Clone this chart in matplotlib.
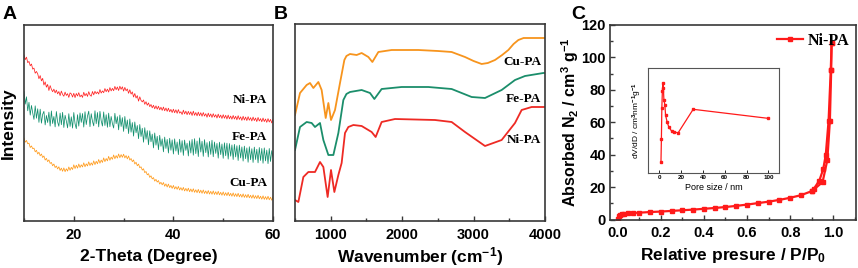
import numpy as np
import matplotlib
matplotlib.use("Agg")
import matplotlib.pyplot as plt
from matplotlib.ticker import MultipleLocator

plt.rcParams['font.family'] = ['Liberation Sans', 'DejaVu Sans']
plt.rcParams['font.weight'] = 'bold'
plt.rcParams['axes.labelweight'] = 'bold'
plt.rcParams['mathtext.fontset'] = 'custom'
plt.rcParams['mathtext.bf'] = 'Liberation Sans:bold'
plt.rcParams['mathtext.rm'] = 'Liberation Sans:bold'
plt.rcParams['mathtext.default'] = 'bf'

# --- A : XRD (2-theta grid, 0.25 deg step) ---
two_theta = np.linspace(10, 60, 201)
xrd_ni = [84.5, 82.1, 83.4, 80.6, 81.2, 79.0, 79.9, 77.3, 77.8, 75.2, 76.1, 74.9,
          72.4, 74.0, 71.3, 72.6, 69.2, 70.8, 68.1, 69.5, 66.4, 68.9, 67.0, 65.8,
          67.1, 65.2, 66.6, 64.7, 65.9, 63.8, 66.1, 64.4, 63.5, 65.6, 63.9, 64.8,
          62.9, 65.2, 64.7, 63.1, 65.0, 62.8, 64.9, 63.6, 65.3, 63.2, 64.1, 62.9,
          65.5, 63.7, 64.9, 63.4, 65.8, 64.1, 63.5, 65.9, 64.2, 66.0, 64.8, 65.7,
          64.6, 66.9, 65.1, 66.2, 65.3, 67.4, 65.8, 67.1, 65.6, 67.9, 66.2, 67.5,
          66.3, 68.5, 66.8, 68.2, 66.4, 68.6, 67.0, 68.3, 66.1, 68.0, 66.3, 67.2,
          65.0, 66.8, 64.6, 65.7, 63.1, 64.9, 62.6, 63.8, 61.0, 63.2, 61.4, 60.6,
          61.6, 59.4, 60.7, 58.9, 60.1, 58.2, 59.3, 57.6, 58.9, 57.1, 58.6, 56.9,
          58.4, 56.6, 57.9, 56.3, 58.0, 56.1, 57.5, 55.8, 57.4, 55.6, 56.8, 55.2,
          56.9, 55.1, 56.6, 54.8, 56.7, 54.9, 55.6, 54.2, 56.4, 54.5, 55.9, 54.1,
          55.8, 54.2, 55.6, 53.7, 55.9, 53.8, 55.2, 53.5, 55.4, 53.6, 55.1, 53.3,
          55.2, 53.4, 54.6, 52.8, 54.9, 53.1, 54.5, 52.7, 54.6, 52.9, 54.1, 52.4,
          54.4, 52.6, 53.9, 52.2, 54.1, 52.3, 53.8, 51.9, 53.9, 52.0, 53.4, 51.8,
          53.7, 51.9, 53.3, 51.5, 53.6, 51.7, 53.0, 51.2, 53.3, 51.4, 52.9, 51.1,
          53.1, 51.3, 52.6, 50.9, 52.9, 51.1, 52.4, 50.6, 52.7, 50.9, 52.1, 50.5,
          52.4, 50.6, 51.9, 50.2, 52.1, 50.4, 51.7, 49.9, 51.8]
xrd_fe = [66.0, 59.5, 63.2, 56.1, 60.4, 53.9, 58.8, 55.0, 51.7, 58.6, 52.3, 57.1,
          50.2, 56.9, 49.8, 54.3, 55.8, 48.9, 53.7, 50.1, 55.4, 48.3, 56.0, 49.6,
          53.2, 47.9, 55.7, 50.4, 48.2, 54.9, 49.0, 55.3, 47.6, 53.8, 50.9, 47.4,
          54.6, 48.1, 53.0, 47.3, 55.2, 49.5, 47.0, 54.1, 48.3, 55.0, 50.2, 54.7,
          47.8, 55.6, 49.1, 53.4, 55.9, 48.0, 54.6, 50.7, 48.4, 56.1, 49.5, 55.2,
          47.9, 55.8, 51.0, 48.3, 55.5, 48.6, 54.1, 47.7, 54.9, 48.0, 53.2, 49.6,
          47.3, 54.8, 49.5, 53.1, 46.4, 53.9, 48.1, 52.6, 45.6, 53.2, 47.0, 51.4,
          44.5, 51.9, 45.2, 50.1, 43.2, 50.4, 44.9, 48.6, 41.9, 49.1, 43.0, 47.2,
          40.1, 47.5, 41.6, 46.0, 38.8, 45.9, 40.3, 44.2, 37.2, 44.8, 38.6, 43.1,
          36.3, 43.6, 38.0, 41.8, 35.2, 42.7, 36.9, 41.5, 34.6, 42.1, 36.0, 41.3,
          34.1, 41.8, 35.6, 40.2, 33.8, 41.6, 35.0, 40.9, 33.4, 41.2, 35.9, 39.6,
          33.1, 40.8, 34.6, 41.5, 33.5, 41.9, 34.3, 40.7, 32.8, 42.3, 35.1, 40.6,
          32.9, 41.4, 34.8, 39.9, 32.6, 40.5, 33.9, 41.1, 32.7, 40.2, 34.4, 39.5,
          32.0, 40.1, 33.8, 39.2, 31.9, 39.8, 33.2, 39.6, 31.5, 39.4, 33.0, 38.7,
          31.3, 39.0, 32.6, 38.3, 30.8, 38.6, 32.1, 37.7, 30.5, 38.1, 31.7, 37.2,
          29.9, 37.8, 31.2, 36.8, 29.8, 37.6, 31.3, 36.5, 29.6, 37.4, 30.8, 36.9,
          29.4, 37.2, 30.6, 36.1, 29.2, 36.9, 30.3, 35.8, 32.5]
xrd_cu = [42.2, 40.1, 41.0, 39.3, 39.6, 37.4, 38.2, 36.8, 37.1, 35.2, 36.0, 34.1,
          35.0, 33.2, 34.1, 32.3, 33.1, 31.0, 31.9, 30.2, 31.1, 29.3, 29.8, 28.1,
          29.0, 27.2, 28.0, 26.5, 27.6, 25.7, 26.9, 25.3, 27.0, 25.1, 26.6, 25.4,
          27.5, 25.8, 27.3, 26.2, 28.6, 26.7, 28.4, 26.9, 29.0, 27.2, 28.6, 27.5,
          29.6, 27.6, 29.1, 28.0, 30.1, 28.2, 29.6, 28.4, 30.6, 28.7, 30.4, 29.1,
          31.3, 29.4, 31.0, 29.8, 32.1, 30.2, 31.8, 30.6, 32.9, 30.9, 32.5, 31.4,
          33.6, 31.7, 33.3, 32.0, 34.1, 32.2, 33.8, 32.4, 34.0, 32.1, 33.3, 31.6,
          33.1, 31.0, 31.8, 30.2, 31.1, 29.0, 29.9, 28.1, 29.0, 27.1, 27.6, 25.9,
          26.6, 24.6, 25.2, 23.5, 24.1, 22.2, 23.0, 21.4, 22.1, 20.3, 21.2, 19.8,
          20.6, 18.8, 19.7, 18.4, 19.6, 17.7, 18.9, 17.3, 18.8, 17.0, 18.1, 16.6,
          18.1, 16.3, 17.5, 16.1, 17.6, 15.8, 17.0, 15.6, 17.1, 15.3, 16.6, 15.2,
          16.7, 14.9, 16.3, 14.8, 16.4, 14.6, 15.9, 14.4, 16.1, 14.3, 15.7, 14.1,
          15.8, 14.0, 15.3, 13.8, 15.5, 13.7, 15.1, 13.6, 15.3, 13.5, 14.9, 13.4,
          15.1, 13.3, 14.6, 13.1, 14.8, 13.0, 14.4, 12.9, 14.6, 12.8, 14.1, 12.6,
          14.3, 12.5, 13.9, 12.4, 14.1, 12.3, 13.6, 12.1, 13.8, 12.0, 13.4, 11.9,
          13.6, 11.8, 13.1, 11.6, 13.3, 11.5, 12.9, 11.4, 13.1, 11.3, 12.6, 11.1,
          12.8, 11.0, 12.4, 10.9, 12.6, 10.8, 12.1, 10.6, 12.3]
xrd_ticks = [20, 40, 60]

# --- B : FTIR ---
wn_cu = [500, 570, 663, 710, 757, 827, 873, 930, 967, 1004, 1060, 1130, 1191, 1220,
         1270, 1363, 1433, 1527, 1583, 1667, 1853, 2227, 2500, 2693, 2880, 3000, 3113,
         3200, 3300, 3400, 3487, 3560, 3627, 3700, 3767, 3930, 4000]
ir_cu = [106, 128, 136, 138, 133, 139, 131, 103, 118, 101, 111, 138, 161, 165,
         167, 166, 168, 164, 159, 169, 171, 171, 170, 169, 164, 160, 157,
         158, 161, 166, 171, 177, 181, 183, 183, 183, 183]
wn_fe = [500, 570, 663, 733, 780, 850, 897, 967, 1037, 1107, 1177, 1220, 1270, 1433,
         1550, 1611, 1713, 1993, 2367, 2693, 2973, 3160, 3393, 3580, 3720, 3977, 4000]
ir_fe = [71, 94, 99, 98, 94, 98, 81, 66, 66, 88, 121, 127, 129, 131,
         128, 122, 132, 134, 134, 132, 124, 123, 131, 141, 145, 148, 148]
wn_ni = [500, 547, 617, 687, 780, 850, 897, 957, 1004, 1051, 1107, 1153, 1200, 1247,
         1317, 1433, 1573, 1629, 1713, 1900, 2460, 2693, 2880, 3160, 3393, 3580, 3673,
         3813, 3977, 4000]
ir_ni = [21, 19, 44, 49, 49, 59, 54, 24, 51, 29, 46, 58, 88, 94,
         96, 95, 89, 84, 99, 102, 101, 99, 89, 75, 81, 98, 111,
         114, 114, 114]
ir_ticks = [1000, 2000, 3000, 4000]

# --- C : N2 isotherm ---
p_ads = [0.0, 0.005, 0.01, 0.02, 0.03, 0.05, 0.07, 0.1, 0.15, 0.2, 0.25, 0.3, 0.35,
         0.4, 0.45, 0.5, 0.55, 0.6, 0.65, 0.7, 0.75, 0.8, 0.85, 0.9, 0.95, 0.972,
         0.984, 0.99, 0.992]
v_ads = [0.5, 2.0, 2.8, 3.2, 3.5, 3.8, 4.0, 4.2, 4.6, 4.9, 5.3, 5.7, 6.1,
         6.6, 7.1, 7.7, 8.4, 9.2, 10.1, 11.0, 12.1, 13.4, 15.0, 17.5, 23.0, 36.6,
         61.0, 92.0, 109.0]
p_des = [0.992, 0.988, 0.978, 0.965, 0.953, 0.935, 0.91, 0.9]
v_des = [109.0, 92.0, 61.0, 40.0, 31.0, 24.0, 19.0, 17.5]
p_ticks = [0.0, 0.2, 0.4, 0.6, 0.8, 1.0]
v_ticks = [0, 20, 40, 60, 80, 100, 120]

# inset : pore size distribution
pore = [1.6, 2.0, 2.4, 2.9, 3.4, 3.8, 4.3, 5.2, 5.8, 7.3, 8.9, 11.3, 13.7, 17.4, 31.1, 99.5]
dvdd = [10.4, 33.7, 64.4, 82.0, 89.4, 85.0, 72.7, 67.7, 57.7, 50.4, 45.4, 41.7, 40.5, 40.0, 63.4, 54.4]

W, H = 858, 268
fig = plt.figure(figsize=(W / 100, H / 100), dpi=100)


def rect(l, t, r, b):
    return [l / W, 1 - b / H, (r - l) / W, (b - t) / H]


def style(ax, pad=5):
    for s in ax.spines.values():
        s.set_linewidth(1.2)
        s.set_color('#383838')
    ax.tick_params(which='both', direction='in', width=1, color='#383838', pad=pad)
    ax.tick_params(which='major', length=3.5)
    ax.tick_params(which='minor', length=2.5)


tick_font = dict(fontsize=10.5, fontweight='bold', family='Liberation Sans')
lab_font = dict(family='Liberation Serif', weight='bold', fontsize=9.5)

# Panel A
axA = fig.add_axes(rect(24, 24.5, 273, 221))
axA.plot(two_theta, xrd_ni, color='#ff2222', lw=0.55)
axA.plot(two_theta, xrd_fe, color='#12906e', lw=0.55)
axA.plot(two_theta, xrd_cu, color='#ff9a1a', lw=0.55)
axA.set_xlim(10, 60)
axA.set_ylim(0, 100)
axA.set_yticks([])
axA.set_xticks(xrd_ticks, [str(v) for v in xrd_ticks], **tick_font)
axA.xaxis.set_minor_locator(MultipleLocator(10))
style(axA)
axA.set_xlabel('2-Theta (Degree)', fontsize=12.5)
axA.xaxis.set_label_coords(0.5, -0.18)
axA.xaxis.label.set_va('center')
axA.set_ylabel('Intensity', fontsize=12.5)
axA.yaxis.set_label_coords(-0.064, 0.5)
axA.yaxis.label.set_va('center')
axA.text(58.8, 61.6, 'Ni-PA', ha='right', va='center', **lab_font)
axA.text(58.8, 43, 'Fe-PA', ha='right', va='center', **lab_font)
axA.text(58.8, 19.5, 'Cu-PA', ha='right', va='center', **lab_font)

# Panel B
axB = fig.add_axes(rect(295, 24, 545, 221))
axB.plot(wn_cu, ir_cu, color='#f7941d', lw=1.3)
axB.plot(wn_fe, ir_fe, color='#1b8e6b', lw=1.3)
axB.plot(wn_ni, ir_ni, color='#ee2a24', lw=1.3)
axB.set_xlim(500, 4000)
axB.set_ylim(0, 197)
axB.set_yticks([])
axB.set_xticks(ir_ticks, [str(v) for v in ir_ticks], **tick_font)
axB.xaxis.set_minor_locator(MultipleLocator(500))
style(axB)
axB.set_xlabel('Wavenumber (cm$^{-1}$)', fontsize=12.5)
axB.xaxis.set_label_coords(0.5, -0.18)
axB.xaxis.label.set_va('center')
axB.text(3950, 159, 'Cu-PA', ha='right', va='center', **lab_font)
axB.text(3950, 122, 'Fe-PA', ha='right', va='center', **lab_font)
axB.text(3950, 81, 'Ni-PA', ha='right', va='center', **lab_font)

# Panel C
axC = fig.add_axes(rect(610, 25, 856, 219.5))
axC.plot(p_ads, v_ads, color='#ff1a1a', lw=1.6, marker='s', ms=3.5, label='Ni-PA')
axC.plot(p_des, v_des, color='#ff1a1a', lw=1.6, marker='s', ms=3.5)
axC.set_xlim(-0.035, 1.105)
axC.set_ylim(0, 120)
axC.set_xticks(p_ticks, [f'{v:.1f}' for v in p_ticks], **tick_font)
axC.set_yticks(v_ticks, [str(v) for v in v_ticks], **tick_font)
axC.xaxis.set_minor_locator(MultipleLocator(0.1))
axC.yaxis.set_minor_locator(MultipleLocator(10))
style(axC)
axC.tick_params(axis='y', pad=3)
axC.set_xlabel('Relative presure / P/P$_0$', fontsize=12.5)
axC.xaxis.set_label_coords(0.5, -0.185)
axC.xaxis.label.set_va('center')
axC.set_ylabel('Absorbed N$_2$ / cm$^3$ g$^{-1}$', fontsize=11.5)
axC.yaxis.set_label_coords(-0.16, 0.5)
axC.yaxis.label.set_va('center')
axC.legend(loc='upper right', frameon=False, handlelength=1.6, handletextpad=0.3,
           borderaxespad=0.1, bbox_to_anchor=(1.005, 1.0),
           prop=dict(family='Liberation Serif', weight='bold', size=11.5))

# inset
axI = fig.add_axes(rect(648.3, 68.3, 779.3, 172.7))
axI.plot(pore, dvdd, color='#ff1a1a', lw=0.9, marker='s', ms=1.5)
axI.set_xlim(-10, 110)
axI.set_ylim(0, 104.4)
axI.set_yticks([])
axI.xaxis.set_major_locator(MultipleLocator(20))
for s in axI.spines.values():
    s.set_linewidth(0.8)
    s.set_color('#555555')
axI.tick_params(direction='in', length=2, width=0.6, labelsize=4.5, pad=2)
axI.set_xlabel('Pore size / nm', fontsize=6.5, fontweight='normal', labelpad=2)
axI.set_ylabel('dV/dD / cm$^3$nm$^{-1}$g$^{-1}$', fontsize=6, fontweight='normal',
               labelpad=3)

# panel letters
fig.text(3 / W, 1 - 19 / H, 'A', fontsize=14, fontweight='bold')
fig.text(274 / W, 1 - 19 / H, 'B', fontsize=14, fontweight='bold')
fig.text(571 / W, 1 - 19 / H, 'C', fontsize=14, fontweight='bold')

fig.savefig('out.png', dpi=100)
